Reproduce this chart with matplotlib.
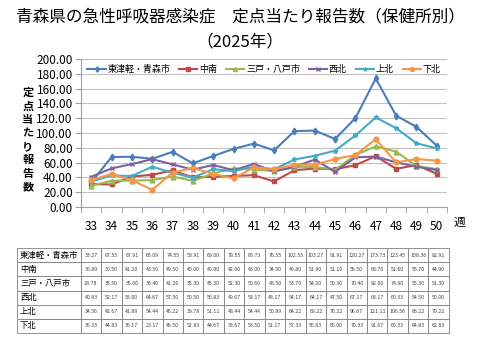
import numpy as np
import matplotlib
matplotlib.use('Agg')
import matplotlib.pyplot as plt

plt.rcParams['font.family'] = ['Noto Sans CJK JP', 'DejaVu Sans']

weeks = [33, 34, 35, 36, 37, 38, 39, 40, 41, 42, 43, 44, 45, 46, 47, 48, 49, 50]

names = ['東津軽・青森市', '中南', '三戸・八戸市', '西北', '上北', '下北']

aomori = [33.27, 67.55, 67.91, 65.09, 74.55, 58.91, 69.00, 78.55, 85.73,
          76.55, 102.55, 103.27, 91.91, 120.27, 173.73, 123.45, 108.36, 82.91]
chunan = [30.89, 30.50, 41.20, 43.50, 49.50, 40.00, 40.80, 42.00, 43.00,
          34.50, 49.80, 51.90, 51.10, 56.50, 68.70, 51.60, 56.70, 44.90]
sannohe = [28.78, 35.50, 35.60, 36.40, 41.20, 35.30, 45.30, 52.30, 50.60,
           48.50, 53.70, 54.20, 50.30, 70.40, 82.00, 74.90, 55.30, 51.30]
seihoku = [40.83, 52.17, 58.00, 64.67, 57.50, 50.50, 56.83, 49.67, 58.17,
           48.17, 54.17, 64.17, 47.50, 67.17, 68.17, 60.33, 54.50, 50.00]
kamikita = [34.56, 42.67, 41.89, 54.44, 46.22, 39.78, 51.11, 48.44, 54.44,
            50.89, 64.22, 69.22, 76.22, 96.67, 121.11, 106.56, 86.22, 79.22]
shimokita = [36.33, 44.83, 36.17, 23.17, 46.50, 52.83, 44.67, 38.67, 53.50,
             51.17, 57.33, 56.83, 65.00, 70.33, 91.67, 60.33, 64.83, 62.83]

series = [aomori, chunan, sannohe, seihoku, kamikita, shimokita]
colors = ['#4A7EBB', '#BE4B48', '#98B954', '#7D60A0', '#46AAC5', '#F79646']
markers = ['d', 's', '^', 'x', '*', 'o']

fig = plt.figure(figsize=(4.8, 3.6), dpi=100)

fig.text(0.5, 0.953, '青森県の急性呼吸器感染症　定点当たり報告数（保健所別）',
         ha='center', va='center', fontsize=12)
fig.text(0.5, 0.883, '（2025年）', ha='center', va='center', fontsize=12)

ax = fig.add_axes([0.169, 0.425, 0.762, 0.411])
x = np.arange(len(weeks))
for s, c, m, n in zip(series, colors, markers, names):
    ax.plot(x, s, color=c, marker=m, markersize=3.5, linewidth=1.5,
            label=n, markeredgewidth=1)

ax.set_xlim(-0.5, len(weeks) - 0.5)
ax.set_ylim(0, 200)
ax.set_yticks(np.arange(0, 201, 20))
ax.set_yticklabels(['%.2f' % v for v in np.arange(0, 201, 20)], fontsize=8.5)
ax.set_xticks(x)
ax.set_xticklabels([str(w) for w in weeks], fontsize=8.5)
ax.set_xticks(np.arange(-0.5, len(weeks), 1), minor=True)
ax.tick_params(axis='x', which='major', length=0, pad=9)
ax.tick_params(axis='x', which='minor', length=4, color='#A0A0A0')
ax.tick_params(axis='y', length=4, color='#A0A0A0', pad=2)
ax.grid(axis='y', color='#C0C0C0', linewidth=0.8)
ax.set_axisbelow(True)
for sp in ['top', 'right']:
    ax.spines[sp].set_visible(False)
for sp in ['left', 'bottom']:
    ax.spines[sp].set_color('#A0A0A0')

ax.legend(loc='upper center', ncol=6, frameon=False, fontsize=6.5,
          bbox_to_anchor=(0.5, 1.015), handlelength=2, columnspacing=1.0,
          handletextpad=0.2, markerscale=0.8)

fig.text(0.958, 0.383, '週', ha='center', va='center', fontsize=8.5)
fig.text(0.058, 0.612, '\n'.join('定点当たり報告数'), ha='center', va='center',
         fontsize=8, fontweight='bold', linespacing=1.05)

# table
tax = fig.add_axes([0.035, 0.075, 0.9, 0.236])
tax.axis('off')
cells = [[n] + ['%.2f' % v for v in s] for n, s in zip(names, series)]
first_w = 64.0
other_w = (432.0 - first_w) / len(weeks)
widths = [first_w / 432.0] + [other_w / 432.0] * len(weeks)
tbl = tax.table(cellText=cells, colWidths=widths, bbox=[0, 0, 1, 1],
                cellLoc='center')
tbl.auto_set_font_size(False)
for (r, c), cell in tbl.get_celld().items():
    cell.set_edgecolor('#808080')
    cell.set_linewidth(0.6)
    if c == 0:
        cell.get_text().set_fontsize(6)
        cell.get_text().set_ha('left')
        cell.PAD = 0.05
    else:
        cell.get_text().set_fontsize(3.8)
        cell.get_text().set_color('#404040')

fig.savefig('out.png', dpi=100)
